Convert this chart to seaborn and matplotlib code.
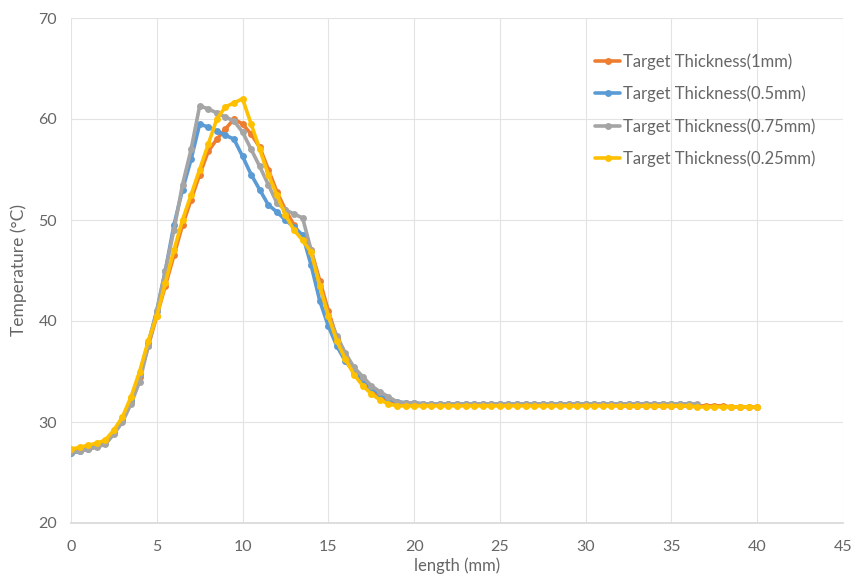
import matplotlib
matplotlib.use("Agg")
import matplotlib.pyplot as plt
import numpy as np
import pandas as pd
import seaborn as sns

sns.set_theme(style="whitegrid")
plt.rcParams["font.family"] = ["Lato", "DejaVu Sans"]

# position along the target, 0.5 mm steps
length_mm = np.arange(0, 40.5, 0.5)

labels = [
    "Target Thickness(1mm)",
    "Target Thickness(0.5mm)",
    "Target Thickness(0.75mm)",
    "Target Thickness(0.25mm)",
]
colors = ["#ED7D31", "#5B9BD5", "#A5A5A5", "#FFC000"]

t_1mm = [
    27.0, 27.2, 27.4, 27.7, 28.0, 29.0, 30.3, 32.0, 34.5, 37.5, 40.5,
    43.5, 46.5, 49.5, 52.0, 54.5, 56.8, 58.0, 59.0, 60.0, 59.5,
    58.5, 57.2, 55.0, 52.8, 51.0, 49.5, 48.2, 47.0, 44.0, 41.0,
    38.3, 36.5, 35.0, 34.0, 33.2, 32.6, 32.1, 31.8, 31.7, 31.7,
    31.7, 31.7, 31.7, 31.7, 31.7, 31.7, 31.7, 31.7, 31.7, 31.7,
    31.7, 31.7, 31.7, 31.7, 31.7, 31.7, 31.7, 31.7, 31.7, 31.7,
    31.7, 31.7, 31.7, 31.6, 31.6, 31.6, 31.6, 31.6, 31.6, 31.6,
    31.6, 31.6, 31.6, 31.6, 31.6, 31.6, 31.5, 31.5, 31.5, 31.5,
]
t_05mm = [
    26.9, 27.1, 27.3, 27.6, 27.9, 28.9, 30.2, 32.2, 34.8, 37.8, 41.0,
    45.0, 49.5, 53.0, 56.0, 59.5, 59.2, 58.8, 58.4, 58.0, 56.3,
    54.5, 53.0, 51.5, 50.8, 50.0, 49.3, 48.5, 45.5, 42.0, 39.5,
    37.5, 36.0, 35.0, 34.2, 33.4, 32.8, 32.3, 32.0, 31.9, 31.9,
    31.8, 31.8, 31.8, 31.8, 31.8, 31.8, 31.8, 31.8, 31.8, 31.8,
    31.8, 31.8, 31.8, 31.8, 31.8, 31.8, 31.8, 31.8, 31.8, 31.8,
    31.8, 31.8, 31.8, 31.8, 31.8, 31.8, 31.8, 31.8, 31.8, 31.8,
    31.8, 31.8,
]
t_075mm = [
    27.0, 27.1, 27.3, 27.5, 27.8, 28.8, 30.0, 31.8, 34.0, 37.5, 41.0,
    45.0, 49.0, 53.5, 57.0, 61.3, 61.0, 60.6, 60.2, 59.8, 58.7,
    57.0, 55.3, 53.5, 51.7, 51.0, 50.6, 50.2, 47.0, 43.5, 40.5,
    38.5, 36.8, 35.4, 34.5, 33.6, 33.0, 32.5, 32.0, 31.9, 31.9,
    31.8, 31.8, 31.8, 31.8, 31.8, 31.8, 31.8, 31.8, 31.8, 31.8,
    31.8, 31.8, 31.8, 31.8, 31.8, 31.8, 31.8, 31.8, 31.8, 31.8,
    31.8, 31.8, 31.8, 31.8, 31.8, 31.8, 31.8, 31.8, 31.8, 31.8,
    31.8, 31.8, 31.8,
]
t_025mm = [
    27.3, 27.5, 27.7, 27.9, 28.2, 29.2, 30.5, 32.5, 35.0, 38.0, 40.5,
    43.8, 47.0, 50.0, 52.5, 55.0, 57.5, 60.0, 61.2, 61.6, 62.0,
    59.5, 57.0, 54.5, 52.5, 50.5, 49.0, 48.0, 46.8, 43.5, 40.5,
    38.0, 36.2, 34.7, 33.6, 32.8, 32.2, 31.8, 31.6, 31.6, 31.6,
    31.6, 31.6, 31.6, 31.6, 31.6, 31.6, 31.6, 31.6, 31.6, 31.6,
    31.6, 31.6, 31.6, 31.6, 31.6, 31.6, 31.6, 31.6, 31.6, 31.6,
    31.6, 31.6, 31.6, 31.6, 31.6, 31.6, 31.6, 31.6, 31.6, 31.6,
    31.6, 31.6, 31.5, 31.5, 31.5, 31.5, 31.5, 31.5, 31.5, 31.5,
]

frames = []
for lab, vals in zip(labels, [t_1mm, t_05mm, t_075mm, t_025mm]):
    frames.append(pd.DataFrame({
        "length": length_mm[:len(vals)],
        "temp": vals,
        "series": lab,
    }))
df = pd.concat(frames, ignore_index=True)

fig = plt.figure(figsize=(8.51, 5.84), dpi=100)
ax = fig.add_axes([71 / 851, 1 - 523 / 584, (843 - 71) / 851, (523 - 18) / 584])

sns.lineplot(
    data=df, x="length", y="temp", hue="series", hue_order=labels,
    palette=colors, marker="o", markersize=5, markeredgewidth=0,
    linewidth=2.6, sort=False, errorbar=None, legend=False, ax=ax,
)

ax.set_xlim(0, 45)
ax.set_ylim(20, 70)
ax.set_xticks(range(0, 50, 5))
ax.set_yticks(range(20, 80, 10))
ax.grid(True, color="#E3E3E3", linewidth=0.8)
for side in ["top", "right", "left"]:
    ax.spines[side].set_visible(False)
ax.spines["bottom"].set_color("#D9D9D9")
ax.tick_params(axis="both", colors="#666666", labelsize=11.5, length=0)
ax.tick_params(axis="y", pad=10)
ax.tick_params(axis="x", pad=12)
ax.set_xlabel("length (mm)", color="#666666", fontsize=12, labelpad=3)
ax.set_ylabel("Temperature (°C)", color="#666666", fontsize=12.5, labelpad=8)

ax.legend(
    ax.lines[:4], labels, loc="upper left", bbox_to_anchor=(0.679, 0.93),
    frameon=False, fontsize=12, labelspacing=0.95, handlelength=1.5,
    handletextpad=0.15, numpoints=1, borderpad=0, borderaxespad=0,
    labelcolor="#666666",
)

fig.savefig("out.png", dpi=100)
